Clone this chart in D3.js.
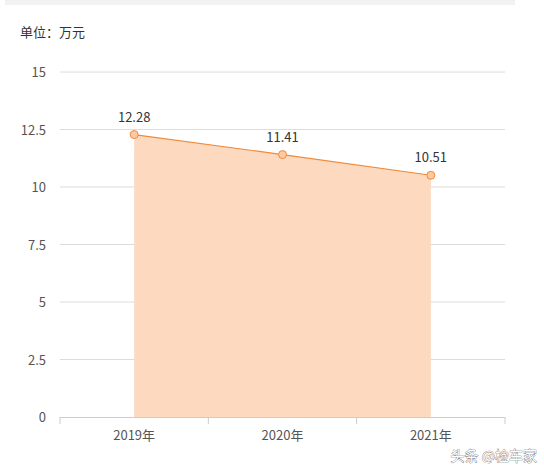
<!DOCTYPE html><html><head><meta charset="utf-8"><script src="https://cdn.jsdelivr.net/npm/d3@7"></script>
<style>body{margin:0;background:#fff}svg{font-family:"Noto Sans CJK SC","Open Sans",sans-serif}</style></head><body>
<svg width="544" height="473"></svg>
<script>
const categories=["2019年","2020年","2021年"];
const values=[12.28,11.41,10.51];
const yTicks=[0,2.5,5,7.5,10,12.5,15];
const svg=d3.select("svg");
svg.append("rect").attr("x",5).attr("y",0).attr("width",510).attr("height",5).attr("fill","#f2f2f2");
const x=d3.scaleBand().domain(categories).range([60,505]);
const y=d3.scaleLinear().domain([0,15]).range([417,72]);
svg.append("text").attr("x",20).attr("y",37).attr("font-size",13).attr("fill","#333").text("单位：万元");
yTicks.forEach(t=>{
 if(t>0)svg.append("line").attr("x1",60).attr("x2",505).attr("y1",y(t)).attr("y2",y(t)).attr("stroke","#dcdcdc");
 svg.append("text").attr("x",46).attr("y",y(t)+5).attr("text-anchor","end").attr("font-size",13).attr("fill","#555").text(t);
});
const cx=d=>x(d)+x.bandwidth()/2;
const pts=categories.map((c,i)=>[cx(c),y(values[i])]);
svg.append("path").attr("d",d3.area().x(d=>d[0]).y0(y(0)).y1(d=>d[1])(pts)).attr("fill","#fdd9bf");
svg.append("path").attr("d",d3.line()(pts)).attr("fill","none").attr("stroke","#f08a3c").attr("stroke-width",1.2);
svg.append("line").attr("x1",60).attr("x2",505).attr("y1",417.5).attr("y2",417.5).attr("stroke","#ccc");
[60,...categories.map(c=>x(c)+x.bandwidth())].forEach(v=>svg.append("line").attr("x1",v).attr("x2",v).attr("y1",417).attr("y2",424).attr("stroke","#ccc"));
categories.forEach((c,i)=>{
 svg.append("circle").attr("cx",pts[i][0]).attr("cy",pts[i][1]).attr("r",4).attr("fill","#fcc9a3").attr("stroke","#f08a3c");
 svg.append("text").attr("x",pts[i][0]).attr("y",pts[i][1]-13).attr("text-anchor","middle").attr("font-size",13).attr("fill","#333").text(values[i].toFixed(2));
 svg.append("text").attr("x",cx(c)).attr("y",440).attr("text-anchor","middle").attr("font-size",13).attr("fill","#555").text(c);
});
svg.append("text").attr("x",537).attr("y",461).attr("text-anchor","end").attr("font-size",14).attr("fill","#fff").attr("stroke","#555").attr("stroke-width",0.6).attr("paint-order","stroke").text("头条 @检车家");
</script></body></html>
